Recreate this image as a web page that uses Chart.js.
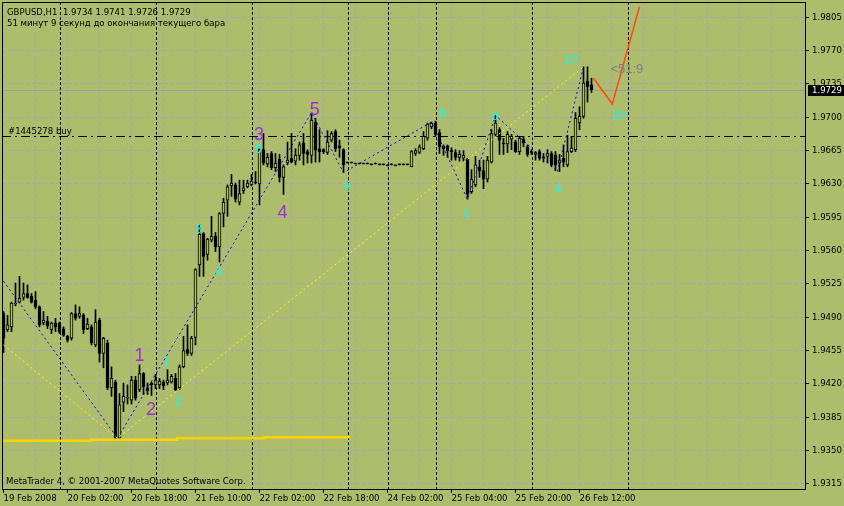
<!DOCTYPE html>
<html><head><meta charset="utf-8">
<script src="https://cdn.jsdelivr.net/npm/chart.js@4.4.0/dist/chart.umd.min.js"></script>
<style>html,body{margin:0;padding:0;background:#AEBD6B;overflow:hidden}#wrap{width:844px;height:506px}</style>
</head><body><div id="wrap"><canvas id="c" width="844" height="506"></canvas></div>
<script>
// ---- candle data (H1 bars, index 0 = 19 Feb 2008 10:00) ----
const openP  = [1.9494,1.9477,1.9480,1.9504,1.9506,1.9511,1.9515,1.9512,1.9508,1.9501,1.9484,1.9486,1.9477,1.9484,1.9484,1.9478,1.9470,1.9468,1.9494,1.9491,
1.9492,1.9478,1.9480,1.9461,1.9487,1.9452,1.9463,1.9416,1.9422,1.9363,1.9401,1.9405,1.9403,1.9424,1.9414,1.9431,1.9416,1.9421,1.9419,1.9419,
1.9422,1.9421,1.9422,1.9426,1.9416,1.9438,1.9456,1.9452,1.9469,1.9545,1.9578,1.9556,1.9571,1.9575,1.9564,1.9599,1.9613,1.9628,1.9629,1.9611,
1.9623,1.9627,1.9629,1.9632,1.9630,1.9666,1.9651,1.9662,1.9647,1.9656,1.9637,1.9652,1.9657,1.9654,1.9660,1.9673,1.9664,1.9660,1.9695,1.9667,
1.9666,1.9663,1.9676,1.9685,1.9670,1.9666,1.9653,1.9653,1.9652,1.9652,1.9652,1.9652,1.9651,1.9652,1.9651,1.9651,1.9650,1.9651,1.9650,1.9651,
1.9651,1.9651,1.9648,1.9662,1.9663,1.9667,1.9678,1.9690,1.9694,1.9684,1.9670,1.9670,1.9665,1.9663,1.9658,1.9657,1.9656,1.9622,1.9629,1.9648,
1.9644,1.9635,1.9653,1.9682,1.9687,1.9673,1.9672,1.9677,1.9674,1.9664,1.9677,1.9669,1.9664,1.9661,1.9664,1.9658,1.9659,1.9662,1.9660,1.9652,
1.9657,1.9650,1.9664,1.9666,1.9694,1.9701,1.9738,1.9734];
const highP  = [1.9496,1.9492,1.9506,1.9526,1.9533,1.9526,1.9524,1.9515,1.9517,1.9502,1.9496,1.9491,1.9485,1.9489,1.9485,1.9480,1.9471,1.9495,1.9503,1.9501,
1.9494,1.9489,1.9482,1.9498,1.9489,1.9469,1.9466,1.9438,1.9424,1.9410,1.9421,1.9419,1.9428,1.9428,1.9440,1.9432,1.9421,1.9422,1.9430,1.9426,
1.9424,1.9435,1.9430,1.9431,1.9440,1.9470,1.9482,1.9470,1.9541,1.9587,1.9579,1.9573,1.9596,1.9579,1.9600,1.9615,1.9629,1.9640,1.9631,1.9634,
1.9634,1.9634,1.9640,1.9643,1.9667,1.9683,1.9662,1.9664,1.9662,1.9661,1.9650,1.9674,1.9683,1.9667,1.9674,1.9683,1.9666,1.9704,1.9699,1.9687,
1.9667,1.9686,1.9685,1.9687,1.9676,1.9667,1.9653,1.9653,1.9652,1.9652,1.9652,1.9652,1.9651,1.9652,1.9651,1.9651,1.9650,1.9651,1.9650,1.9651,
1.9651,1.9651,1.9665,1.9667,1.9671,1.9685,1.9694,1.9695,1.9696,1.9687,1.9671,1.9671,1.9668,1.9666,1.9665,1.9665,1.9657,1.9645,1.9659,1.9655,
1.9655,1.9659,1.9687,1.9701,1.9689,1.9678,1.9685,1.9682,1.9676,1.9680,1.9680,1.9671,1.9666,1.9664,1.9666,1.9662,1.9666,1.9664,1.9664,1.9661,
1.9671,1.9681,1.9680,1.9705,1.9711,1.9753,1.9753,1.9741];
const lowP   = [1.9453,1.9475,1.9475,1.9502,1.9505,1.9508,1.9510,1.9505,1.9499,1.9480,1.9482,1.9478,1.9473,1.9475,1.9473,1.9470,1.9464,1.9466,1.9487,1.9489,
1.9473,1.9477,1.9461,1.9459,1.9443,1.9437,1.9414,1.9407,1.9362,1.9363,1.9391,1.9399,1.9399,1.9403,1.9412,1.9409,1.9409,1.9408,1.9415,1.9415,
1.9414,1.9419,1.9421,1.9413,1.9414,1.9437,1.9450,1.9450,1.9461,1.9533,1.9533,1.9550,1.9569,1.9559,1.9548,1.9585,1.9596,1.9617,1.9611,1.9608,
1.9620,1.9626,1.9628,1.9630,1.9608,1.9650,1.9648,1.9645,1.9643,1.9632,1.9619,1.9650,1.9652,1.9650,1.9655,1.9650,1.9652,1.9652,1.9653,1.9653,
1.9662,1.9661,1.9674,1.9664,1.9658,1.9642,1.9652,1.9652,1.9651,1.9651,1.9651,1.9651,1.9650,1.9651,1.9650,1.9650,1.9649,1.9650,1.9649,1.9650,
1.9650,1.9650,1.9648,1.9660,1.9662,1.9666,1.9676,1.9688,1.9680,1.9662,1.9660,1.9658,1.9655,1.9655,1.9654,1.9654,1.9614,1.9620,1.9627,1.9637,
1.9625,1.9632,1.9652,1.9680,1.9661,1.9661,1.9663,1.9666,1.9663,1.9661,1.9669,1.9659,1.9661,1.9655,1.9655,1.9653,1.9652,1.9648,1.9644,1.9643,
1.9648,1.9648,1.9663,1.9664,1.9687,1.9699,1.9716,1.9726];
const closeP = [1.9468,1.9482,1.9505,1.9505,1.9510,1.9515,1.9511,1.9506,1.9501,1.9482,1.9487,1.9481,1.9484,1.9480,1.9475,1.9471,1.9466,1.9494,1.9489,1.9494,
1.9477,1.9483,1.9463,1.9485,1.9452,1.9468,1.9416,1.9426,1.9363,1.9398,1.9407,1.9405,1.9424,1.9405,1.9431,1.9417,1.9413,1.9419,1.9424,1.9423,
1.9418,1.9424,1.9428,1.9414,1.9438,1.9455,1.9452,1.9468,1.9540,1.9577,1.9554,1.9572,1.9575,1.9564,1.9599,1.9611,1.9627,1.9631,1.9614,1.9620,
1.9626,1.9631,1.9633,1.9631,1.9666,1.9652,1.9658,1.9647,1.9652,1.9637,1.9648,1.9655,1.9653,1.9660,1.9671,1.9662,1.9661,1.9697,1.9666,1.9664,
1.9664,1.9674,1.9683,1.9667,1.9668,1.9650,1.9652,1.9652,1.9651,1.9651,1.9651,1.9651,1.9650,1.9651,1.9650,1.9650,1.9649,1.9650,1.9649,1.9650,
1.9650,1.9650,1.9664,1.9665,1.9669,1.9680,1.9693,1.9694,1.9682,1.9669,1.9667,1.9665,1.9664,1.9658,1.9661,1.9660,1.9619,1.9635,1.9650,1.9644,
1.9635,1.9655,1.9683,1.9694,1.9676,1.9672,1.9682,1.9680,1.9664,1.9678,1.9673,1.9661,1.9663,1.9663,1.9657,1.9657,1.9662,1.9650,1.9650,1.9655,
1.9653,1.9664,1.9668,1.9699,1.9701,1.9736,1.9732,1.9729];

// ---- x axis tick labels (every 16 bars) ----
const tickBars   = [0,16,32,48,64,80,96,112,128,144];
const tickLabels = ["19 Feb 2008","20 Feb 02:00","20 Feb 18:00","21 Feb 10:00","22 Feb 02:00","22 Feb 18:00","24 Feb 02:00","25 Feb 04:00","25 Feb 20:00","26 Feb 12:00"];
// ---- y axis ticks ----
const yTicks = [1.9315,1.9350,1.9385,1.9420,1.9455,1.9490,1.9525,1.9560,1.9595,1.9630,1.9665,1.9700,1.9735,1.9770,1.9805];
// ---- day separators (bar index) ----
const separatorBars = [14,38,62,86,96,108,132,156];
// ---- price lines ----
const bidPrice = 1.9729;
const orderPrice = 1.9680;
// ---- wave lines ----
const blueBars   = [0, 28.5, 77, 85, 107, 116, 123, 138.5, 145];
const bluePrices = [1.9528, 1.9363, 1.9705, 1.9642, 1.9695, 1.9614, 1.9702, 1.9643, 1.9753];
const yellowBars   = [0, 28.5, 145];
const yellowPrices = [1.9461, 1.9363, 1.9753];
const redBars   = [147.5, 152.2, 159.0];
const redPrices = [1.9741, 1.9714, 1.9816];
const goldBars   = [0, 21.7, 43.4, 65.2, 86.7];
const goldPrices = [1.93605, 1.93615, 1.9363, 1.9364, 1.9364];
// ---- wave labels ----
const purpleText = ['1','2','3','4','5'];
const purpleBars = [34.0, 36.9, 63.9, 69.75, 77.8];
const purplePrices = [1.9449, 1.9393, 1.9681, 1.9599, 1.9708];
const cyanText = ['1','2','3','4','5','a','b','c','d','e','1?','2?'];
const cyanBars = [40.85, 43.75, 48.75, 53.75, 63.75, 85.7, 109.75, 115.85, 122.9, 138.75, 141.85, 153.9];
const cyanPrices = [1.9443, 1.9401, 1.9582, 1.9537, 1.9666, 1.9628, 1.9704, 1.9599, 1.9701, 1.9625, 1.9759, 1.9701];
const greyText = ['<51:9'];
const greyBars = [155.85];
const greyPrices = [1.9750];

const BG = '#AEBD6B';
const GRID = '#A8A8AE';

function hasFont(name){
  const c = document.createElement('canvas').getContext('2d');
  const s = '1.9805 20 Feb 02:00 GBPUSD';
  c.font = '40px monospace'; const w1 = c.measureText(s).width;
  c.font = '40px "' + name + '", monospace'; const w2 = c.measureText(s).width;
  return Math.abs(w1 - w2) > 0.5;
}
let UIF, UIS;
if (hasFont('Liberation Sans Narrow')) { UIF = '"Liberation Sans Narrow"'; UIS = 11; }
else if (hasFont('DejaVu Sans Condensed')) { UIF = '"DejaVu Sans Condensed"'; UIS = 9.5; }
else { UIF = '"Liberation Sans"'; UIS = 9.5; }

const pts = (bs, ps) => bs.map((b, i) => ({x: b, y: ps[i]}));
const bodyData = openP.map((o, i) => ({x: i, y: [o, closeP[i]]}));
const wickData = openP.map((o, i) => ({x: i, y: [lowP[i], highP[i]]}));

const overlay = {
  id: 'overlay',
  beforeDraw(chart) {
    const {ctx} = chart;
    ctx.save(); ctx.fillStyle = BG; ctx.fillRect(0, 0, chart.width, chart.height); ctx.restore();
  },
  beforeDatasetsDraw(chart) {
    const {ctx, chartArea: a, scales: {x, y}} = chart;
    ctx.save();
    ctx.beginPath(); ctx.rect(a.left, a.top, a.right - a.left, a.bottom - a.top); ctx.clip();
    // vertical grid (every 8 bars)
    ctx.strokeStyle = GRID; ctx.lineWidth = 1; ctx.setLineDash([4, 2]);
    x.ticks.forEach(t => {
      const px = Math.round(x.getPixelForValue(t.value) - 0.5) + 0.5;
      ctx.beginPath(); ctx.moveTo(px, a.top); ctx.lineTo(px, a.bottom); ctx.stroke();
    });
    // bid line
    ctx.strokeStyle = '#A0A0A0'; ctx.setLineDash([]);
    let py = Math.round(y.getPixelForValue(bidPrice)) + 0.5;
    ctx.beginPath(); ctx.moveTo(a.left, py); ctx.lineTo(a.right, py); ctx.stroke();
    // day separators
    ctx.strokeStyle = '#000'; ctx.setLineDash([3, 2]);
    separatorBars.forEach(b => {
      const px = Math.floor(x.getPixelForValue(b)) + 1.5;
      ctx.beginPath(); ctx.moveTo(px, a.top); ctx.lineTo(px, a.bottom); ctx.stroke();
    });
    // order line (dash-dot)
    ctx.setLineDash([9, 4, 2, 4]);
    py = Math.round(y.getPixelForValue(orderPrice)) + 0.5;
    ctx.beginPath(); ctx.moveTo(a.left, py); ctx.lineTo(a.right, py); ctx.stroke();
    ctx.restore();
  },
  afterDatasetsDraw(chart) {
    const {ctx, chartArea: a, scales: {x, y}} = chart;
    ctx.save();
    ctx.beginPath(); ctx.rect(a.left, a.top, a.right - a.left, a.bottom - a.top); ctx.clip();
    ctx.textAlign = 'center'; ctx.textBaseline = 'middle';
    const put = (txt, bs, ps, color, font) => {
      ctx.fillStyle = color; ctx.font = font;
      txt.forEach((t, i) => ctx.fillText(t, x.getPixelForValue(bs[i]), y.getPixelForValue(ps[i])));
    };
    put(purpleText, purpleBars, purplePrices, '#9932CC', '18px "Liberation Sans"');
    put(cyanText, cyanBars, cyanPrices, '#00FFFF', '12px "Liberation Sans"');
    put(greyText, greyBars, greyPrices, '#808080', '13px "Liberation Sans"');
    ctx.restore();
  },
  afterDraw(chart) {
    const {ctx, chartArea: a, scales: {y}} = chart;
    ctx.save();
    // left & top frame
    ctx.strokeStyle = '#000'; ctx.lineWidth = 1; ctx.setLineDash([]);
    ctx.beginPath();
    ctx.moveTo(a.left + 0.5, a.bottom); ctx.lineTo(a.left + 0.5, a.top + 0.5); ctx.lineTo(a.right, a.top + 0.5);
    ctx.stroke();
    // texts
    ctx.fillStyle = '#000'; ctx.font = UIS + 'px ' + UIF; ctx.textAlign = 'left'; ctx.textBaseline = 'alphabetic';
    ctx.fillText('GBPUSD,H1  1.9734 1.9741 1.9726 1.9729', 7, 15);
    ctx.fillText('51 минут 9 секунд до окончания текущего бара', 7, 26);
    ctx.fillText('#1445278 buy', 8, 134);
    ctx.fillText('MetaTrader 4, © 2001-2007 MetaQuotes Software Corp.', 6, 484);
    // bid price box
    const py = Math.round(y.getPixelForValue(bidPrice));
    ctx.fillStyle = '#000'; ctx.fillRect(808, py - 5, 36, 11);
    ctx.fillStyle = '#fff'; ctx.textBaseline = 'middle';
    ctx.fillText(bidPrice.toFixed(4), 812, py + 0.5);
    ctx.restore();
  }
};

new Chart(document.getElementById('c'), {
  type: 'bar',
  data: {
    datasets: [
      {type: 'line', data: pts(redBars, redPrices), borderColor: '#FF4A10', borderWidth: 1.5, pointRadius: 0, fill: false, order: 1},
      {type: 'line', data: pts(blueBars, bluePrices), borderColor: '#0000FF', borderWidth: 1, borderDash: [2, 3], pointRadius: 0, fill: false, order: 2},
      {type: 'line', data: pts(yellowBars, yellowPrices), borderColor: '#FFFF00', borderWidth: 1, borderDash: [2, 3], pointRadius: 0, fill: false, order: 2},
      {type: 'line', data: pts(goldBars, goldPrices), borderColor: '#FFD200', borderWidth: 2.5, stepped: true, pointRadius: 0, fill: false, order: 3},
      {type: 'bar', data: bodyData, grouped: false, barThickness: 3, minBarLength: 1,
        backgroundColor: c => (c.raw && c.raw.y[1] >= c.raw.y[0]) ? BG : '#000',
        borderColor: '#000', borderWidth: 1, borderSkipped: false, order: 4},
      {type: 'bar', data: wickData, grouped: false, barThickness: 1, backgroundColor: '#000', borderWidth: 0, order: 5}
    ]
  },
  options: {
    responsive: false, animation: false, devicePixelRatio: 1,
    layout: {padding: {left: 2, top: 2, right: 0, bottom: 0}},
    plugins: {legend: {display: false}, tooltip: {enabled: false}},
    scales: {
      x: {
        type: 'linear', min: -0.375, max: 200.375, offset: false,
        afterBuildTicks: s => { const t = []; for (let v = 0; v <= 200; v += 8) t.push({value: v}); s.ticks = t; },
        afterFit: s => { s.height = 17; s.paddingLeft = 0; s.paddingRight = 0; },
        grid: {color: GRID, lineWidth: 1, offset: false, drawTicks: true, tickLength: 4, tickBorderDash: [],
               tickColor: c => (c.tick && tickBars.includes(c.tick.value)) ? '#000' : 'rgba(0,0,0,0)'},
        border: {display: true, color: '#000', width: 1, dash: [4, 2]},
        ticks: {autoSkip: false, maxRotation: 0, minRotation: 0, align: 'start', padding: 0, color: '#000',
                font: {family: UIF, size: UIS},
                callback: v => { const k = tickBars.indexOf(v); return k >= 0 ? tickLabels[k] : ''; }}
      },
      y: {
        type: 'linear', position: 'right', min: 1.930972, max: 1.982106,
        afterBuildTicks: s => { s.ticks = yTicks.map(v => ({value: v})); },
        afterFit: s => { s.width = 39; s.paddingTop = 0; s.paddingBottom = 0; },
        grid: {color: GRID, lineWidth: 1, drawTicks: true, tickLength: 4, tickColor: '#000', tickBorderDash: []},
        border: {display: true, color: '#000', width: 1, dash: [4, 2]},
        ticks: {autoSkip: false, padding: 3, color: '#000', font: {family: UIF, size: UIS},
                callback: v => Number(v).toFixed(4)}
      }
    }
  },
  plugins: [overlay]
});
</script>
</body></html>
